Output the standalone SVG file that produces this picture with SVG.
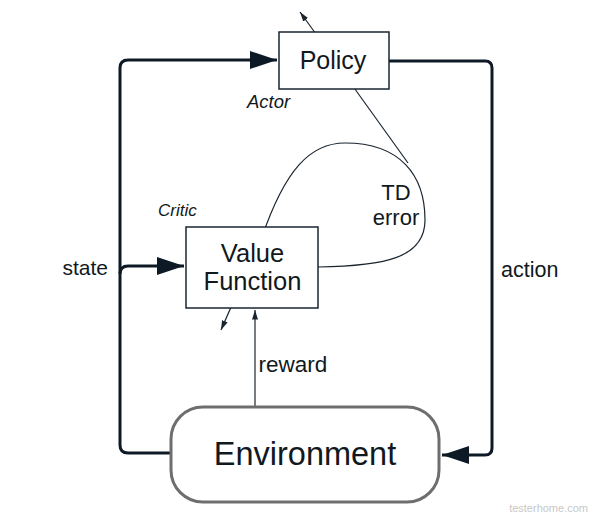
<svg xmlns="http://www.w3.org/2000/svg" width="594" height="522" viewBox="0 0 594 522">
<style>
.t{font-family:"Liberation Sans",Arial,sans-serif;fill:#111820}
.i{font-style:italic}
.thick{fill:none;stroke:#0d1a26;stroke-width:3;stroke-linejoin:round}
.thin{fill:none;stroke:#1a2530;stroke-width:1.2}
.box{fill:#fff;stroke:#1a2530;stroke-width:1.5}
</style>
<defs>
<marker id="big" markerWidth="9" markerHeight="6" refX="9" refY="3" orient="auto" markerUnits="strokeWidth"><path d="M0,0 L9,3 L0,6 Z" fill="#0d1a26"/></marker>
<marker id="small" markerWidth="8" markerHeight="6" refX="8" refY="3" orient="auto" markerUnits="strokeWidth"><path d="M0,0.5 L8,3 L0,5.5 Z" fill="#1a2530"/></marker>
</defs>
<rect width="594" height="522" fill="#fff"/>
<g id="connectors">
<path class="thick" d="M170,453 H128 Q120,453 120,445 V68 Q120,60 128,60 H277" marker-end="url(#big)"/>
<path class="thick" d="M120,274 Q120,266 128,266 H184" marker-end="url(#big)"/>
<path class="thick" d="M389,61 H485 Q492,61 492,68 V448 Q492,455 485,455 H442" marker-end="url(#big)"/>
<path class="thin" d="M255,406 V310" marker-end="url(#small)"/>
<path class="thin" d="M235,298 L221,330" marker-end="url(#small)"/>
<path class="thin" d="M324,45 L300,12" marker-end="url(#small)"/>
<path class="thin" d="M347,78 L408,163"/>
<path class="thin" d="M262,237 C285,170 310,143 345,143 C400,143 425,175 425,220 C425,258 385,266 318,267"/>
</g>
<g id="policy">
<rect class="box" x="279" y="32" width="110" height="57"/>
<text class="t" x="333" y="69" font-size="25" text-anchor="middle">Policy</text>
</g>
<g id="value-function">
<rect class="box" x="186" y="227" width="132" height="81"/>
<text class="t" x="252.5" y="262" font-size="25.5" text-anchor="middle">Value</text>
<text class="t" x="252.5" y="290" font-size="25.5" text-anchor="middle">Function</text>
</g>
<g id="environment">
<rect x="171" y="407" width="268" height="95" rx="32" fill="#fff" stroke="#6e6e6e" stroke-width="3"/>
<text class="t" x="305" y="465" font-size="32.5" text-anchor="middle">Environment</text>
</g>
<g id="labels">
<text class="t i" x="247" y="108" font-size="18.5">Actor</text>
<text class="t i" x="158" y="216" font-size="17">Critic</text>
<text class="t" x="396" y="200" font-size="22" text-anchor="middle">TD</text>
<text class="t" x="396" y="225" font-size="22" text-anchor="middle">error</text>
<text class="t" x="62.5" y="275" font-size="21">state</text>
<text class="t" x="501" y="277" font-size="21.5">action</text>
<text class="t" x="258.5" y="372" font-size="22.5">reward</text>
<text x="588" y="512" font-family="'Liberation Sans',sans-serif" font-size="11" fill="#c8c8c8" text-anchor="end">testerhome.com</text>
</g>
</svg>
